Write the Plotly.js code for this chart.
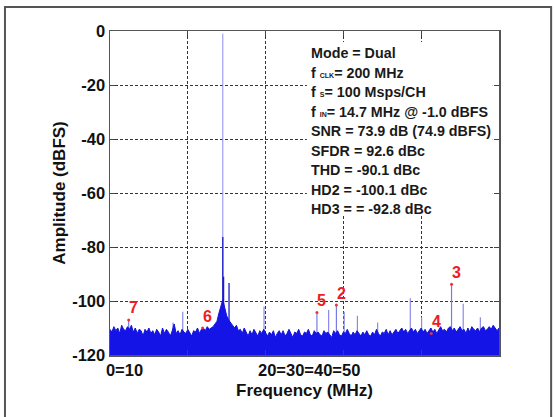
<!DOCTYPE html>
<html>
<head>
<meta charset="utf-8">
<script src="https://cdn.plot.ly/plotly-3.0.1.min.js"></script>
<style>html,body{margin:0;padding:0;background:#fff;}#chart{width:554px;height:417px;}</style>
</head>
<body>
<div id="chart"></div>
<script>
// ---- Data ----
// Noise floor (dBFS), one value per 0.25 MHz bin from 0 to 50 MHz
const binWidthMHz = 0.25;
const noiseFloor = [
  -110.5, -111.5, -109.5, -111,
  -110, -112, -109, -110.5,
  -111, -109.5, -110.5, -109,
  -111.5, -110, -112, -110.5,
  -111, -113, -110.5, -111.5,
  -110, -112, -111, -112.5,
  -110.5, -111.5, -113, -110,
  -112, -110.5, -111.5, -113,
  -111, -108.5, -112, -111,
  -112.5, -110.5, -111.5, -112,
  -110.5, -112, -113, -111,
  -111.5, -110, -112, -110.5,
  -110, -111, -109.5, -110.5,
  -110, -109.5, -108.5, -107.5,
  -104.5, -102, -99.5, -102.5,
  -105.5, -107, -108, -109,
  -110, -109, -111, -110.5,
  -112, -110, -111.5, -113,
  -111, -112.5, -110.5, -112,
  -113, -111, -112, -110.5,
  -112, -113, -111.5, -112.5,
  -111, -113.5, -112, -111,
  -112.5, -111, -113, -112,
  -110.5, -112, -113.5, -111.5,
  -112, -110.5, -112.5, -113,
  -111.5, -112, -110.5, -112.5,
  -113, -111, -112, -111.5,
  -112.5, -113, -111, -112,
  -111.5, -112.5, -113.5, -111,
  -112, -111, -112.5, -113,
  -111.5, -112, -110.5, -112,
  -113, -111.5, -112.5, -111,
  -112, -113, -111.5, -112.5,
  -111, -112.5, -113, -111.5,
  -112.5, -110.5, -112, -113,
  -111.5, -112, -110.5, -112.5,
  -111, -112.5, -111.5, -110.5,
  -112, -111, -110, -111.5,
  -110.5, -112, -111, -110,
  -111.5, -110.5, -112, -111,
  -110, -111.5, -110.5, -112,
  -111, -110, -111.5, -110.5,
  -112, -110.5, -109.5, -111,
  -110.5, -111.5, -110, -109.5,
  -111, -110, -111.5, -110.5,
  -109.5, -111, -110.5, -112,
  -110, -111.5, -109.5, -110.5,
  -111, -110, -111.5, -110,
  -109.5, -111, -110.5, -109.5,
  -110.5, -109, -110, -111,
  -110
];

// Fundamental tone
const fundFreq = [14.5];
const fundAmp = [-1];

// Close-in spikes on the fundamental skirt
const skirtFreq = [14.5, 14.6, 15.3];
const skirtAmp = [-76.3, -91, -93.3];

// Other (non-harmonic) spurs
const spurFreq = [8.1, 9.35, 19.8, 28.1, 30.1, 31.8, 34.4, 38.6, 40.05, 45.4, 47.6];
const spurAmp = [-108, -104, -102, -103.3, -104, -105.5, -108, -99, -106, -101, -106];

// Harmonics (labels as in the reference)
const hdLabels = ['2', '3', '4', '5', '6', '7'];
const hdFreq = [29.1, 43.9, 41.3, 26.6, 11.9, 2.4];
const hdAmp = [-101.5, -93.8, -112, -104.3, -110, -107];

// Axis ticks
const yTickVals = [0, -20, -40, -60, -80, -100, -120];
const yTickText = ['0', '-20', '-40', '-60', '-80', '-100', '-120'];
const xGridVals = [10, 20, 30, 40];
const xLabelVals = [1.86, 25.6];
const xLabelText = ['0=10', '20=30=40=50'];

// Info text block
const infoLines = [
  'Mode = Dual',
  'f <span style="font-size:7px">CLK</span>= 200 MHz',
  'f <span style="font-size:7px">S</span>= 100 Msps/CH',
  'f <span style="font-size:7px">IN</span>= 14.7 MHz @ -1.0 dBFS',
  'SNR = 73.9 dB (74.9 dBFS)',
  'SFDR = 92.6 dBc',
  'THD = -90.1 dBc',
  'HD2 = -100.1 dBc',
  'HD3 = = -92.8 dBc'
];

// ---- Build traces ----
const yMin = Math.min(...yTickVals);
const noiseX = noiseFloor.map((_, i) => i * binWidthMHz);

function stems(xs, ys, base) {
  const X = [], Y = [];
  xs.forEach((x, i) => { X.push(x, x, null); Y.push(base, ys[i], null); });
  return {X, Y};
}

const fundS = stems(fundFreq, fundAmp, yMin);
const skirtS = stems(skirtFreq, skirtAmp, yMin);
const spurS = stems(spurFreq, spurAmp, yMin);
const hdS = stems(hdFreq, hdAmp, yMin);

const FONT = 'Liberation Sans, Arial, Helvetica, sans-serif';

const traces = [
  {x: fundS.X, y: fundS.Y, mode: 'lines', line: {color: '#8c8cf0', width: 1}, hoverinfo: 'skip', showlegend: false},
  {x: spurS.X, y: spurS.Y, mode: 'lines', line: {color: '#8a8ae8', width: 1.2}, hoverinfo: 'skip', showlegend: false},
  {x: hdS.X, y: hdS.Y, mode: 'lines', line: {color: '#7a7ae6', width: 1.2}, hoverinfo: 'skip', showlegend: false},
  {x: skirtS.X, y: skirtS.Y, mode: 'lines', line: {color: '#1b1bc8', width: 1.3}, hoverinfo: 'skip', showlegend: false},
  {x: [noiseX[0], noiseX[noiseX.length - 1]], y: [yMin, yMin], mode: 'lines', line: {width: 0, color: 'rgba(0,0,0,0)'}, hoverinfo: 'skip', showlegend: false},
  {x: noiseX, y: noiseFloor, mode: 'lines', fill: 'tonexty', fillcolor: '#1414e6', line: {color: '#1212e0', width: 1}, hoverinfo: 'skip', showlegend: false},
  {x: hdFreq, y: hdAmp, mode: 'markers', marker: {color: '#f0303a', size: 3}, hoverinfo: 'skip', showlegend: false}
];

const annotations = [];
hdLabels.forEach((t, i) => {
  annotations.push({
    x: hdFreq[i], y: hdAmp[i], xref: 'x', yref: 'y', text: t, showarrow: false,
    xanchor: 'center', yanchor: 'middle', xshift: 5, yshift: 12,
    font: {family: FONT, size: 16, color: '#ee1c24', weight: 'bold'}
  });
});
infoLines.forEach((t, i) => {
  annotations.push({
    x: 0.511, y: 0.932 - i * 0.0602, xref: 'paper', yref: 'paper', text: t, showarrow: false,
    xanchor: 'left', yanchor: 'middle', align: 'left',
    font: {family: FONT, size: 14.3, color: '#1a1a1a', weight: 'bold'}
  });
});

const gridDash = '3px,2px';
const layout = {
  width: 554, height: 417,
  margin: {l: 110, r: 55, t: 31, b: 62},
  paper_bgcolor: '#ffffff', plot_bgcolor: '#ffffff',
  font: {family: FONT, color: '#111'},
  showlegend: false,
  xaxis: {
    range: [0, 50], fixedrange: true,
    tickmode: 'array', tickvals: xLabelVals, ticktext: xLabelText, ticks: '',
    tickfont: {family: FONT, size: 16.5, color: '#111', weight: 'bold'},
    showgrid: false, zeroline: false,
    showline: true, mirror: 'ticks', linecolor: '#555', linewidth: 1.5,
    minor: {tickmode: 'array', tickvals: xGridVals, showgrid: true, gridcolor: '#333', griddash: gridDash, gridwidth: 1, ticks: 'inside', ticklen: 5, tickcolor: '#444', tickwidth: 1},
    title: {text: 'Frequency (MHz)', standoff: 6, font: {family: FONT, size: 17, color: '#111', weight: 'bold'}}
  },
  yaxis: {
    range: [-120, 0], fixedrange: true,
    tickmode: 'array', tickvals: yTickVals, ticktext: yTickText, ticks: 'inside', ticklen: 5, tickcolor: '#444', tickwidth: 1,
    tickfont: {family: FONT, size: 16.5, color: '#111', weight: 'bold'},
    showgrid: true, gridcolor: '#333', griddash: gridDash, gridwidth: 1, zeroline: false,
    showline: true, mirror: 'ticks', linecolor: '#555', linewidth: 1.5,
    title: {text: 'Amplitude (dBFS)', standoff: 2, font: {family: FONT, size: 17, color: '#111', weight: 'bold'}}
  },
  shapes: [
    {
      type: 'rect', xref: 'paper', yref: 'paper', x0: -0.27, x1: 1.134, y0: -0.2, y1: 1.074,
      line: {color: '#555', width: 2}, fillcolor: 'rgba(0,0,0,0)', layer: 'below'
    },
    {
      type: 'rect', xref: 'paper', yref: 'paper', x0: 0.506, x1: 0.984, y0: 0.432, y1: 0.966,
      line: {width: 0}, fillcolor: '#ffffff', opacity: 1, layer: 'above'
    }
  ],
  annotations: annotations
};

Plotly.newPlot('chart', traces, layout, {staticPlot: true, displayModeBar: false});
</script>
</body>
</html>
